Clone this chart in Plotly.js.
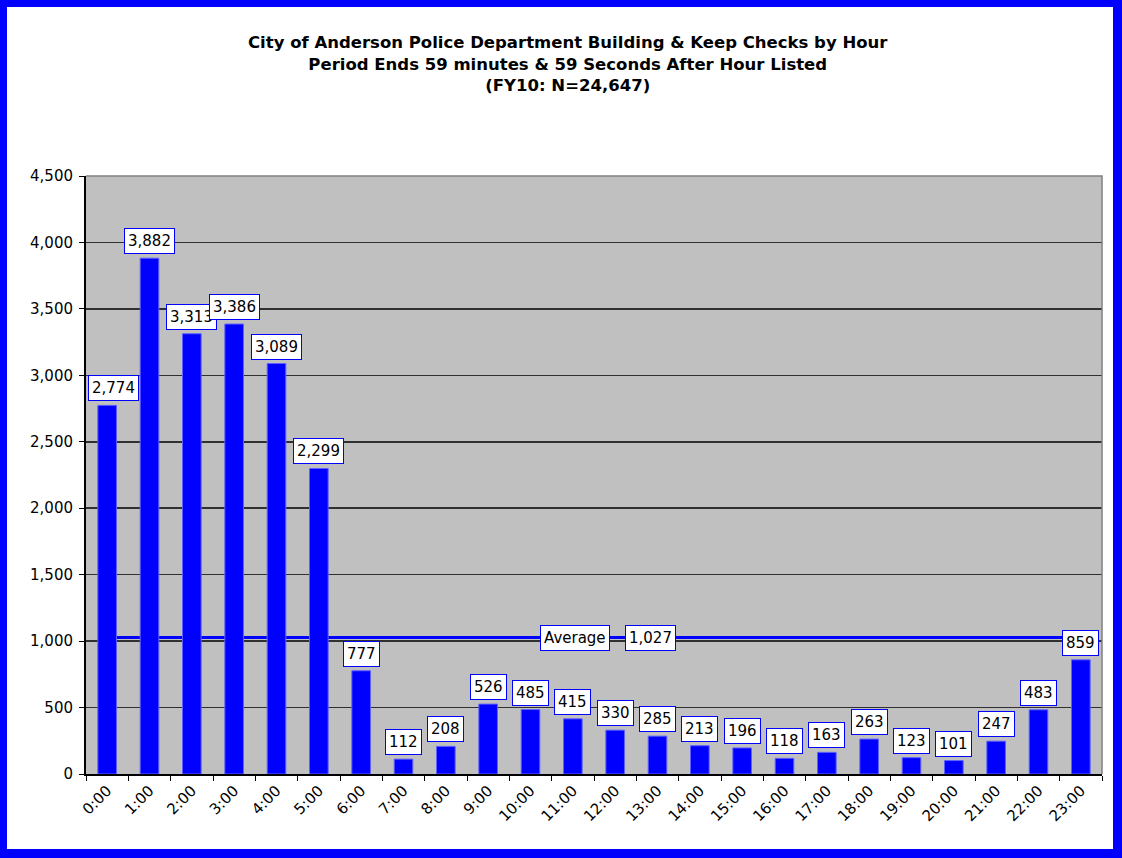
<!DOCTYPE html>
<html>
<head>
<meta charset="utf-8">
<script src="https://cdn.plot.ly/plotly-3.0.1.min.js"></script>
<style>
  html, body { margin: 0; padding: 0; background: #ffffff; }
  #frame { position: absolute; left: 0; top: 0; width: 1106px; height: 842px;
           border-style: solid; border-color: #0000FF;
           border-width: 7px 9px 9px 7px; background: #ffffff; }
  #chart { width: 1106px; height: 842px; }
</style>
</head>
<body>
<div id="frame"><div id="chart"></div></div>
<script>
// ---- data ----
const hours = ["0:00","1:00","2:00","3:00","4:00","5:00","6:00","7:00","8:00","9:00","10:00","11:00",
               "12:00","13:00","14:00","15:00","16:00","17:00","18:00","19:00","20:00","21:00","22:00","23:00"];
const checks = [2774,3882,3313,3386,3089,2299,777,112,208,526,485,415,
                330,285,213,196,118,163,263,123,101,247,483,859];
const yTickVals = [0,500,1000,1500,2000,2500,3000,3500,4000,4500];
const titleLines = ["City of Anderson Police Department Building & Keep Checks by Hour",
                    "Period Ends 59 minutes & 59 Seconds After Hour Listed",
                    "(FY10: N=24,647)"];
const averageLabel = "Average";

// ---- derived ----
const total = checks.reduce((a, b) => a + b, 0);
const average = total / checks.length;
const fmt = v => Math.round(v).toLocaleString('en-US');

const FONT = "'DejaVu Sans', Arial, sans-serif";

const barTrace = {
  type: 'bar',
  x: hours,
  y: checks,
  marker: { color: '#0000FF', line: { color: '#6060FF', width: 1 } },
  hoverinfo: 'x+y',
  showlegend: false
};

const boxStyle = {
  showarrow: false,
  font: { family: FONT, size: 15, color: '#000000' },
  bgcolor: '#FFFFFF', bordercolor: '#0000FF', borderwidth: 1, borderpad: 3
};

const labelAnns = checks.map((v, i) => Object.assign({
  x: hours[i], y: v, xref: 'x', yref: 'y',
  text: fmt(v),
  yanchor: 'bottom', yshift: 4,
  xshift: i === 0 ? 6 : 0
}, boxStyle));

const avgAnns = [
  Object.assign({ x: 11.05, y: average, xref: 'x', yref: 'y', text: averageLabel }, boxStyle),
  Object.assign({ x: 12.83, y: average, xref: 'x', yref: 'y', text: fmt(average) }, boxStyle)
];

const layout = {
  width: 1106, height: 842,
  margin: { l: 79, r: 11, t: 169, b: 75 },
  paper_bgcolor: '#FFFFFF',
  plot_bgcolor: '#C0C0C0',
  bargap: 0.56,
  title: {
    text: '<b>' + titleLines.join('<br>') + '</b>',
    font: { family: FONT, size: 16.5, color: '#000000' },
    xref: 'container', x: 0.507, xanchor: 'center',
    yref: 'container', y: 0.951, yanchor: 'middle'
  },
  xaxis: {
    type: 'category',
    tickangle: -45,
    tickson: 'boundaries',
    ticks: 'outside', ticklen: 5, tickcolor: '#000000', tickwidth: 1,
    showline: true, linecolor: '#000000', linewidth: 2,
    showgrid: false, zeroline: false,
    tickfont: { family: FONT, size: 15, color: '#000000' },
    range: [-0.5, hours.length - 0.5]
  },
  yaxis: {
    range: [0, 4500],
    tickvals: yTickVals,
    ticktext: yTickVals.map(fmt),
    ticks: 'outside', ticklen: 5, tickcolor: '#000000', tickwidth: 1,
    showline: true, linecolor: '#000000', linewidth: 2,
    showgrid: true, gridcolor: '#303030', gridwidth: 1.5,
    zeroline: false,
    tickfont: { family: FONT, size: 15, color: '#000000' },
    ticklabelstandoff: 3
  },
  shapes: [
    { type: 'line', xref: 'x', yref: 'y', layer: 'between',
      x0: hours[0], x1: hours[hours.length - 1], y0: average, y1: average,
      line: { color: '#0000FF', width: 3 } },
    { type: 'path', xref: 'paper', yref: 'paper', layer: 'above',
      path: 'M 0,1 L 1,1 L 1,0',
      line: { color: '#808080', width: 1.5 } }
  ],
  annotations: labelAnns.concat(avgAnns)
};

Plotly.newPlot('chart', [barTrace], layout, { displayModeBar: false, staticPlot: true });
</script>
</body>
</html>
